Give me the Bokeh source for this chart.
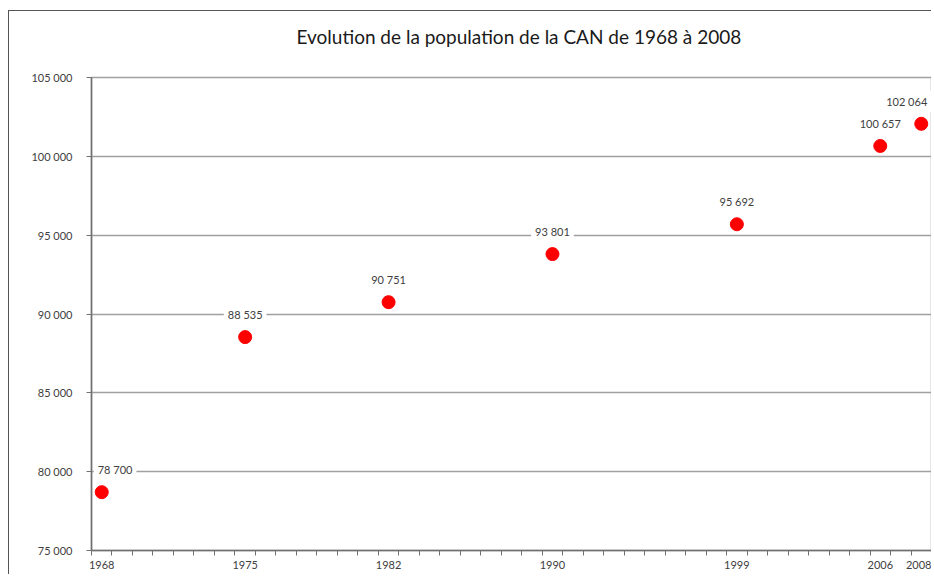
from bokeh.plotting import figure
from bokeh.models import FixedTicker, Label, Title
from bokeh.embed import file_html
from bokeh.resources import INLINE

title_text = "Evolution de la population de la CAN de 1968 à 2008"
years = [1968, 1975, 1982, 1990, 1999, 2006, 2008]
population = [78700, 88535, 90751, 93801, 95692, 100657, 102064]
y_ticks = [75000, 80000, 85000, 90000, 95000, 100000, 105000]
y_tick_labels = ["75 000", "80 000", "85 000", "90 000", "95 000", "100 000", "105 000"]
year_first, year_last = 1968, 2008

FONT = "Lato"
TXT = "#404040"
AXIS = "#707070"
GRID = "#a0a0a0"


def fmt(v):
    return f"{v:,}".replace(",", " ")


p = figure(width=923, height=564, output_backend="svg", toolbar_location=None,
           x_range=(year_first - 0.5, year_last + 0.5), y_range=(y_ticks[0], y_ticks[-1]),
           min_border_left=82, min_border_right=1, min_border_top=66, min_border_bottom=25,
           title=None)
p.styles = {"border-left": "1px solid #555555", "border-top": "1px solid #555555",
            "margin-top": "10px", "margin-left": "8px"}

# spacer (closest to the frame), then the real title above it
p.add_layout(Title(text=" ", text_font_size="1px", standoff=17), "above")
p.add_layout(Title(text=title_text, align="left", offset=205, standoff=20,
                   text_font=FONT, text_font_size="19px", text_font_style="normal",
                   text_color="#1a1a1a"), "above")

p.outline_line_color = GRID
p.outline_line_width = 1.5
p.background_fill_color = "white"
p.border_fill_color = "white"

# x axis
minor = [y - 0.5 for y in range(year_first, year_last + 2)]
p.xaxis.ticker = FixedTicker(ticks=years, minor_ticks=minor)
p.xaxis.major_label_overrides = {y: str(y) for y in years}
p.xaxis.major_tick_line_color = None
p.xaxis.minor_tick_line_color = AXIS
p.xaxis.minor_tick_out = 5
p.xaxis.minor_tick_in = 0
p.xaxis.axis_line_color = AXIS
p.xaxis.axis_line_width = 1.5
p.xaxis.major_label_text_font = FONT
p.xaxis.major_label_text_font_size = "11px"
p.xaxis.major_label_text_color = TXT
p.xaxis.major_label_standoff = 4

# y axis
p.yaxis.ticker = FixedTicker(ticks=y_ticks, minor_ticks=[])
p.yaxis.major_label_overrides = dict(zip(y_ticks, y_tick_labels))
p.yaxis.major_tick_line_color = AXIS
p.yaxis.major_tick_out = 5
p.yaxis.major_tick_in = 0
p.yaxis.minor_tick_line_color = None
p.yaxis.axis_line_color = AXIS
p.yaxis.axis_line_width = 1.5
p.yaxis.major_label_text_font = FONT
p.yaxis.major_label_text_font_size = "11px"
p.yaxis.major_label_text_color = TXT
p.yaxis.major_label_standoff = 14

p.xgrid.visible = False
p.ygrid.ticker = FixedTicker(ticks=y_ticks)
p.ygrid.grid_line_color = GRID
p.ygrid.grid_line_width = 1.5

p.scatter(years, population, size=13, color="#ff0000", line_color="#ff0000")

n = len(years)
for i, (yr, pop) in enumerate(zip(years, population)):
    if i == 0:
        align, dx = "left", -8
    elif i == n - 1:
        align, dx = "right", 10
    else:
        align, dx = "center", 0
    p.add_layout(Label(x=yr, y=pop, text=fmt(pop), x_offset=dx, y_offset=12,
                       text_align=align, text_baseline="bottom",
                       text_font=FONT, text_font_size="11px", text_color=TXT,
                       background_fill_color="white", padding=4))

open("out.html", "w").write(file_html(p, INLINE))
